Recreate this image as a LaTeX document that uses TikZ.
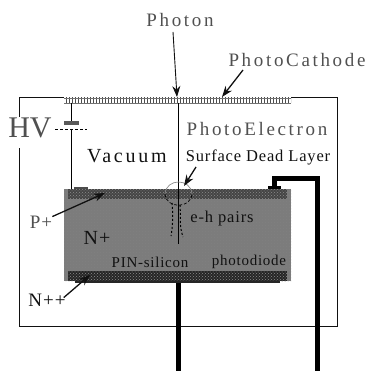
\documentclass[tikz,border=0pt]{standalone}
\usepackage{fontspec}
\setmainfont{Liberation Serif}
\newfontfamily\widefont[LetterSpace=14]{Liberation Serif}
\newfontfamily\midfont[LetterSpace=5]{Liberation Serif}
\usetikzlibrary{arrows.meta,patterns}
\definecolor{Ink}{HTML}{111111}
\definecolor{Halftone}{HTML}{7C7C7C}
\definecolor{DopedP}{HTML}{454545}
\definecolor{DopedN}{HTML}{262626}
\definecolor{Faded}{HTML}{505050}
\tikzset{
  label wide/.style={text=Faded,font=\widefont\fontsize{19}{19}\selectfont,inner sep=0pt},
  label small/.style={text=Ink,font=\midfont\fontsize{15}{15}\selectfont,inner sep=0pt},
  pointer/.style={draw=Ink,line width=1.3pt,-{Stealth[length=11pt,width=8pt]}},
  wire/.style={draw=black,line width=0.8pt},
  lead/.style={draw=black,line width=5pt},
  housing/.style={draw=Ink,line width=1pt}
}
\begin{document}
\begin{tikzpicture}[x=1pt,y=-1pt,line join=miter]
    \useasboundingbox (0,0) rectangle (371,371);
    % housing, broken at the HV label
    \path[housing] (19,117) -- (19,98) -- (337,98) -- (337,326) -- (19,326) -- (19,148);
    % photocathode
    \path[fill=white] (64,97) rectangle (291,104);
    \path[pattern=vertical lines,pattern color=black!70] (64,98) rectangle (291,103);
    \draw[black!55,line width=0.6pt] (64,98) -- (291,98) (64,103) -- (291,103);

    % diode body and layers
    \path[fill=Halftone] (64,189) rectangle (291,281);
    \path[pattern=crosshatch dots,pattern color=black!50] (64,189) rectangle (291,281);
    \path[fill=DopedP] (68,189) rectangle (287,199);
    \path[pattern=crosshatch dots,pattern color=white!55!black] (68,189) rectangle (287,199);
    \path[fill=DopedN] (68,271) rectangle (287,281);
    \path[pattern=crosshatch dots,pattern color=black!45] (68,271) rectangle (287,281);
    \path[fill=black!85] (75,281) rectangle (280,283);
    \path[fill=black!70] (74,187) rectangle (88,189);
    \path[fill=black] (268,186) rectangle (281,189);

    % battery and its wire
    \coordinate (plus plate) at (71.5,122);
    \coordinate (minus plate) at (71.5,129);
    \draw[wire] (71.5,103) -- (plus plate);
    \draw[wire] (minus plate) -- (71.5,189);
    \path[fill=black!65] (64,121) rectangle (79,125);
    \draw[black,line width=0.8pt,densely dashed] (55,129) -- (87,129);

    % leads
    \draw[lead] (274,187) -- (274,178.5) -- (317,178.5) -- (317,371);
    \draw[lead] (178.5,283) -- (178.5,371);

    % electron track
    \draw[wire] (178,103) -- (178,244);
    \draw[black,line width=1pt,dash pattern=on 2pt off 2pt]
      (172,203) .. controls (173,215) and (173,225) .. (171,236);
    \draw[black,line width=1pt,dash pattern=on 2pt off 2pt]
      (180,205) .. controls (181,220) and (179,225) .. (183,237);
    \draw[black!45,line width=0.7pt] (165,194) .. controls (166,178) and (191,178) .. (192,194);
    \draw[black,line width=0.7pt,densely dashed] (165,194) .. controls (166,209) and (191,209) .. (192,194);

    % labels
    \node[label wide] (photon) at (180,20) {Photon};
    \node[label wide] (cathode) at (297,60) {PhotoCathode};
    \node[label wide] (electron) at (257,129) {PhotoElectron};
    \node[text=Ink,font=\midfont\fontsize{16.5}{16.5}\selectfont,inner sep=0pt] (dead) at (258,157) {Surface Dead Layer};
    \node[text=Ink,font=\widefont\fontsize{20}{20}\selectfont,inner sep=0pt] (vacuum) at (127,156) {Vacuum};
    \node[text=Faded,font=\fontsize{30}{30}\selectfont,inner sep=0pt] (hv) at (30,128) {HV};
    \node[text=Faded,font=\midfont\fontsize{19}{19}\selectfont,inner sep=0pt] (pplus) at (41,222) {P+};
    \node[text=Ink,font=\midfont\fontsize{20}{20}\selectfont,inner sep=0pt] (nplus) at (97,238) {N+};
    \node[text=Ink,font=\midfont\fontsize{19}{19}\selectfont,inner sep=0pt] (nplusplus) at (47,300) {N++};
    \node[text=Ink,font=\midfont\fontsize{16.5}{16.5}\selectfont,inner sep=0pt] (pairs) at (222,219) {e-h pairs};
    \node[label small] (pin) at (150,262) {PIN-silicon};
    \node[label small] (diode) at (249,262) {photodiode};

    % pointers
    \coordinate (photon tip) at (177,97);
    \coordinate (cathode tip) at (222,97);
    \coordinate (dead tip) at (184,186);
    \coordinate (pplus tip) at (105,193);
    \coordinate (nplusplus tip) at (90,275);
    \draw[pointer,line width=0.9pt] (173,32) -- (photon tip);
    \draw[pointer] (243,70) -- (cathode tip);
    \draw[pointer] (196,167) -- (dead tip);
    \draw[pointer] (pplus.north east) ++(0,1) -- (pplus tip);
    \draw[pointer] (nplusplus.north east) ++(-2,4) -- (nplusplus tip);
  \end{tikzpicture}
\end{document}
